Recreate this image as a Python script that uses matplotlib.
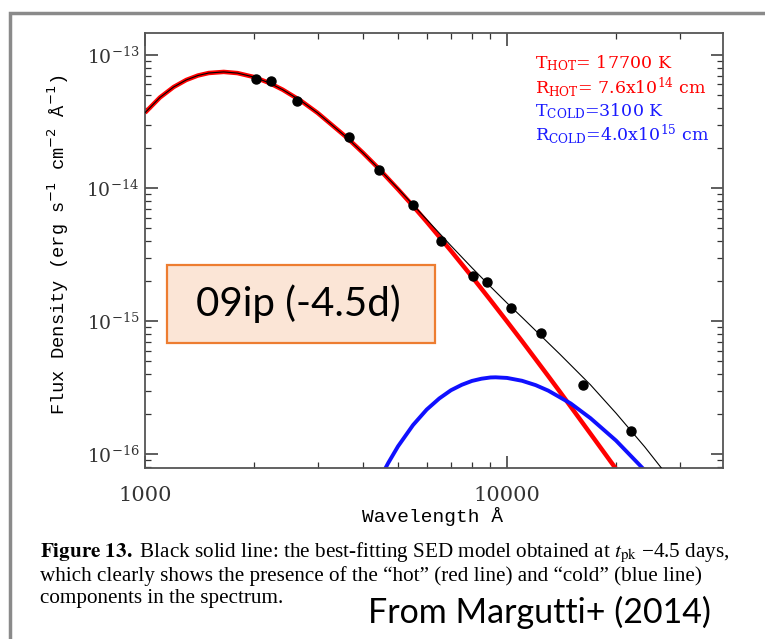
import matplotlib.pyplot as plt
from matplotlib.patches import Rectangle
from matplotlib.ticker import LogLocator, NullFormatter

# photometry (Angstrom, erg/s/cm2/A)
obs_wave = [2030, 2230, 2630, 3650, 4440, 5510, 6570, 8040, 8790, 10260, 12410, 16250, 22050]
obs_flux = [6.64e-14, 6.35e-14, 4.52e-14, 2.40e-14, 1.37e-14, 7.45e-15, 4.03e-15,
            2.17e-15, 1.97e-15, 1.26e-15, 8.17e-16, 3.29e-16, 1.51e-16]

# hot component (red)
hot_wave = [1000, 1100, 1200, 1300, 1400, 1500, 1650, 1800, 2000, 2200, 2400, 2700, 3000,
            3600, 4000, 4400, 5000, 5500, 6000, 7000, 8000, 9000, 10000, 11000, 13000,
            14000, 17000, 20000]
hot_flux = [3.68e-14, 4.79e-14, 5.74e-14, 6.48e-14, 7.00e-14, 7.31e-14, 7.45e-14, 7.30e-14,
            6.82e-14, 6.17e-14, 5.48e-14, 4.51e-14, 3.66e-14, 2.41e-14, 1.84e-14, 1.42e-14,
            9.78e-15, 7.33e-15, 5.58e-15, 3.38e-15, 2.16e-15, 1.44e-15, 9.95e-16, 7.09e-16,
            3.87e-16, 2.95e-16, 1.43e-16, 7.78e-17]

# cold component (blue)
cold_wave = [4500, 4700, 5000, 5500, 6000, 6500, 7000, 7500, 8000, 8500, 9000, 9300, 10000,
             11000, 12000, 13000, 15000, 17000, 20000, 24000]
cold_flux = [6.93e-17, 8.64e-17, 1.15e-16, 1.66e-16, 2.17e-16, 2.63e-16, 3.03e-16, 3.33e-16,
             3.56e-16, 3.70e-16, 3.78e-16, 3.79e-16, 3.75e-16, 3.57e-16, 3.31e-16, 3.01e-16,
             2.41e-16, 1.87e-16, 1.27e-16, 7.6e-17]

# best-fitting total model (black)
tot_wave = [1000, 1100, 1200, 1300, 1400, 1500, 1650, 1800, 2000, 2200, 2400, 2700, 3000,
            3600, 4000, 4400, 5000, 5500, 6000, 7000, 8000, 9000, 10000, 11000, 13000,
            14000, 17000, 20000, 24000, 28000]
tot_flux = [3.68e-14, 4.79e-14, 5.74e-14, 6.48e-14, 7.00e-14, 7.31e-14, 7.45e-14, 7.30e-14,
            6.82e-14, 6.17e-14, 5.48e-14, 4.51e-14, 3.66e-14, 2.41e-14, 1.84e-14, 1.42e-14,
            9.90e-15, 7.49e-15, 5.80e-15, 3.69e-15, 2.52e-15, 1.82e-15, 1.37e-15, 1.07e-15,
            6.87e-16, 5.65e-16, 3.33e-16, 2.04e-16, 1.14e-16, 6.7e-17]

x_ticks = [1000, 10000]
x_labels = ['1000', '10000']
y_ticks = [1e-16, 1e-15, 1e-14, 1e-13]
y_labels = [r'10$^{-16}$', r'10$^{-15}$', r'10$^{-14}$', r'10$^{-13}$']

W, H = 765, 639
fig = plt.figure(figsize=(W / 100, H / 100), dpi=100)
fig.patch.set_facecolor('white')

def fx(px):
    return px / W

def fy(py):
    return 1 - py / H

ax = fig.add_axes([fx(145), fy(468), fx(723) - fx(145), fy(33) - fy(468)])
ax.set_xscale('log')
ax.set_yscale('log')

ax.plot(hot_wave, hot_flux, color='#ff0000', lw=3.2, solid_capstyle='butt', zorder=2)
ax.plot(cold_wave, cold_flux, color='#1010ff', lw=2.8, solid_capstyle='butt', zorder=2)
ax.plot(tot_wave, tot_flux, color='black', lw=0.8, zorder=3)
ax.plot(obs_wave, obs_flux, 'o', color='black', ms=6.5, zorder=4)

ax.set_xlim(1000, 39500)
ax.set_ylim(7.9e-17, 1.46e-13)

ax.set_xticks(x_ticks, x_labels, fontfamily='DejaVu Serif', fontsize=15)
ax.xaxis.set_minor_locator(LogLocator(base=10, subs=range(2, 10)))
ax.xaxis.set_minor_formatter(NullFormatter())
ax.set_yticks(y_ticks, y_labels, fontfamily='DejaVu Serif', fontsize=13.5)
ax.yaxis.set_minor_locator(LogLocator(base=10, subs=range(2, 10)))
ax.yaxis.set_minor_formatter(NullFormatter())
for lab in ax.get_xticklabels() + ax.get_yticklabels():
    lab.set_math_fontfamily('dejavuserif')

ax.tick_params(which='both', direction='in', top=True, right=True, colors='#333333')
ax.tick_params(which='major', length=9, width=1.1)
ax.tick_params(which='minor', length=4.5, width=0.9)
ax.tick_params(axis='x', pad=13)
ax.tick_params(axis='y', pad=4)
for s in ax.spines.values():
    s.set_color('#555555')
    s.set_linewidth(1.3)

fig.text(fx(58), fy(245), r'Flux Density (erg s$^{-1}$ cm$^{-2}$ Å$^{-1}$)', rotation=90,
         ha='center', va='center', fontsize=13.5, fontfamily='Liberation Mono',
         math_fontfamily='dejavusans')
fig.text(fx(432), fy(517), 'Wavelength Å', ha='center', va='center', fontsize=14,
         fontfamily='Liberation Mono')

legend_lines = [
    (r'T$_{\mathregular{HOT}}$= 17700 K', '#ff0000', 63),
    (r'R$_{\mathregular{HOT}}$= 7.6x10$^{\mathregular{14}}$ cm', '#ff0000', 87),
    (r'T$_{\mathregular{COLD}}$=3100 K', '#1a1aff', 111),
    (r'R$_{\mathregular{COLD}}$=4.0x10$^{\mathregular{15}}$ cm', '#1a1aff', 134),
]
for txt, col, py in legend_lines:
    fig.text(fx(535), fy(py), txt, color=col, ha='left', va='center', fontsize=12.5,
             fontfamily='DejaVu Serif', math_fontfamily='dejavuserif')

# label box
fig.add_artist(Rectangle((fx(167), fy(343)), fx(435) - fx(167), fy(265) - fy(343),
                         transform=fig.transFigure, facecolor='#fbe5d6',
                         edgecolor='#ed7d31', lw=1.6))
fig.text(fx(298), fy(304), '09ip (-4.5d)', ha='center', va='center', fontsize=29,
         fontfamily='Lato')

# caption
caption = [
    r'$\mathbf{Figure\ 13.}$ Black solid line: the best-fitting SED model obtained at $t_{\rm pk}$ −4.5 days,',
    'which clearly shows the presence of the “hot” (red line) and “cold” (blue line)',
    'components in the spectrum.',
]
for i, line in enumerate(caption):
    fig.text(fx(40), fy(553 + 23 * i), line, ha='left', va='center', fontsize=15.2,
             fontfamily='Liberation Serif', math_fontfamily='stix')
fig.text(fx(368), fy(612), 'From Margutti+ (2014)', ha='left', va='center', fontsize=24.5,
         fontfamily='Lato')

# slide frame
fig.add_artist(Rectangle((fx(10), -0.5), 2, fy(13) + 0.5, transform=fig.transFigure,
                         fill=False, edgecolor='#8a8a8a', lw=2.5))

fig.savefig('out.png', dpi=100)
